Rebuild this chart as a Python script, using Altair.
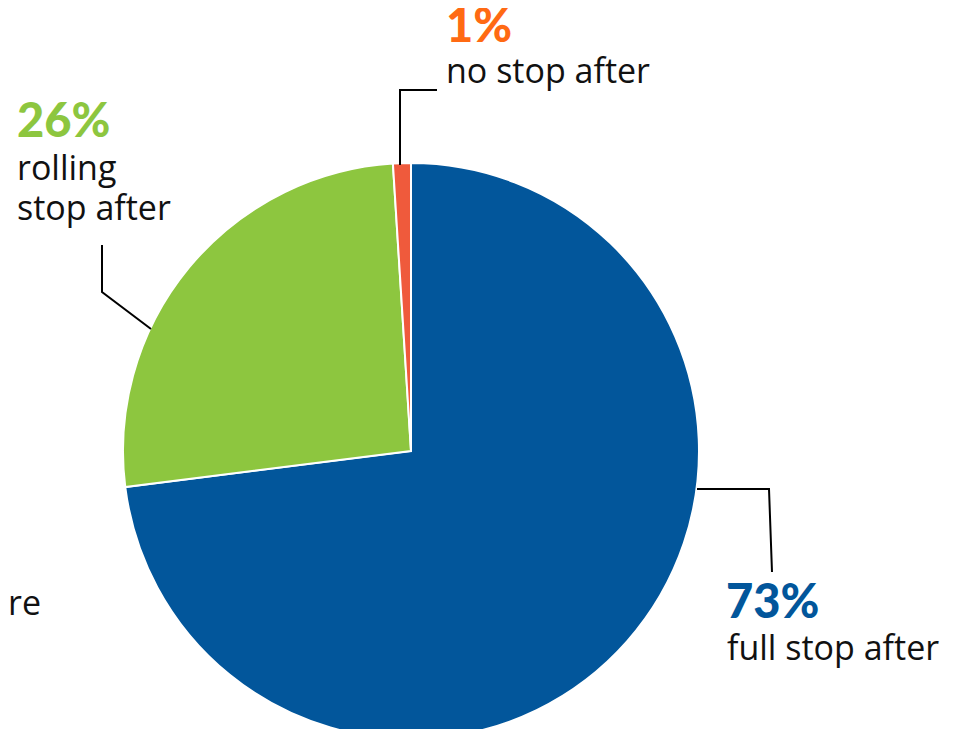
import altair as alt
import pandas as pd

# Slice data (clockwise from 12 o'clock)
categories = ["full stop after", "rolling stop after", "no stop after"]
values = [73, 26, 1]
slice_colors = ["#02569B", "#8DC63F", "#EF5A3C"]
order = [1, 2, 3]

# Label annotations
pct_labels = ["73%", "26%", "1%"]
pct_colors = ["#02569B", "#8DC63F", "#FF6A13"]
pct_x = [718, 9, 438]
pct_y = [610, 129, 34]

desc_lines = ["full stop after", "rolling", "stop after", "no stop after", "re"]
desc_x = [719, 9, 9, 438, 0]
desc_y = [652, 172, 212, 75, 607]

# Leader lines (chart pixel coordinates)
lead_id = [0, 0, 0, 1, 1, 1, 2, 2, 2]
lead_step = [0, 1, 2, 0, 1, 2, 0, 1, 2]
lead_x = [689, 761, 764, 143, 94, 94, 392, 392, 429]
lead_y = [481, 481, 564, 321, 284, 237, 157, 82, 82]

pie_df = pd.DataFrame({"cat": categories, "val": values, "ord": order})
pct_df = pd.DataFrame({"t": pct_labels, "c": pct_colors, "x": pct_x, "y": pct_y})
desc_df = pd.DataFrame({"t": desc_lines, "x": desc_x, "y": desc_y})
lead_df = pd.DataFrame({"id": lead_id, "s": lead_step, "x": lead_x, "y": lead_y})

pie = alt.Chart(pie_df).mark_arc(outerRadius=288, stroke="white", strokeWidth=2).encode(
    theta=alt.Theta("val:Q", stack=True),
    order=alt.Order("ord:Q"),
    color=alt.Color("cat:N", scale=alt.Scale(domain=categories, range=slice_colors), legend=None),
    x=alt.value(403),
    y=alt.value(443),
)

leads = alt.Chart(lead_df).mark_line(color="black", strokeWidth=2).encode(
    x=alt.X("x:Q", scale=None, axis=None),
    y=alt.Y("y:Q", scale=None, axis=None),
    detail="id:N",
    order="s:Q",
)

pcts = alt.Chart(pct_df).mark_text(
    align="left", baseline="alphabetic", font="Lato", fontSize=47, fontWeight=900
).encode(
    x=alt.X("x:Q", scale=None, axis=None),
    y=alt.Y("y:Q", scale=None, axis=None),
    text="t:N",
    color=alt.Color("c:N", scale=None),
)

descs = alt.Chart(desc_df).mark_text(
    align="left", baseline="alphabetic", font="Open Sans", fontSize=34, color="#111111"
).encode(
    x=alt.X("x:Q", scale=None, axis=None),
    y=alt.Y("y:Q", scale=None, axis=None),
    text="t:N",
)

chart = alt.layer(pie, leads, pcts, descs).properties(
    width=952, height=721, padding=0, autosize=alt.AutoSizeParams(type="none")
).configure_view(stroke=None)

chart.save("out.html", embed_options={"renderer": "svg", "actions": False})
